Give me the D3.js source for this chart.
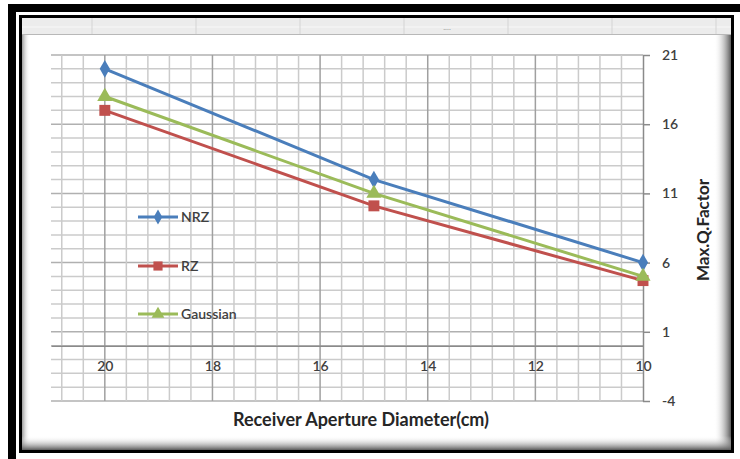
<!DOCTYPE html>
<html>
<head>
<meta charset="utf-8">
<script src="https://cdn.jsdelivr.net/npm/d3@7"></script>
<style>
  html, body { margin: 0; padding: 0; background: #fff; }
  svg { display: block; font-family: Lato, "Open Sans", sans-serif; }
</style>
</head>
<body>
<div id="chart"></div>
<script>
// données
const diameters = [20, 15, 10];
const nrz = [20, 12, 6];
const rz = [17, 10.1, 4.7];
const gaussian = [18, 11, 5];
const seriesNames = ["NRZ", "RZ", "Gaussian"];
const xTicks = [20, 18, 16, 14, 12, 10];
const yTicks = [-4, 1, 6, 11, 16, 21];

const width = 740,
    height = 459,
    plot = {left: 51, right: 643, top: 55, bottom: 401},
    colors = ["#4a7ebb", "#c0504d", "#9bbb59"],
    symbols = [d3.symbolDiamond, d3.symbolSquare, d3.symbolTriangle],
    symbolSizes = [90, 120, 100],
    legendY = [217, 266, 314];

const svg = d3.select("#chart").append("svg")
    .attr("width", width)
    .attr("height", height);

const x = d3.scaleLinear().domain([21, 10]).range([plot.left, plot.right]);
const y = d3.scaleLinear().domain([-4, 21]).range([plot.bottom, plot.top]);

drawFrame();
drawGrid();
drawAxes();
drawSeries();
drawLegend();

function drawFrame() {
    const defs = svg.append("defs");
    const grad = (id, x1, y1, x2, y2) => {
        const g = defs.append("linearGradient").attr("id", id)
            .attr("x1", x1).attr("y1", y1).attr("x2", x2).attr("y2", y2);
        g.append("stop").attr("offset", "0%").attr("stop-color", "#fff").attr("stop-opacity", 0);
        g.append("stop").attr("offset", "100%").attr("stop-color", "#5a5a5a").attr("stop-opacity", 1);
    };
    grad("shRight", 0, 0, 1, 0);
    grad("shBottom", 0, 0, 0, 1);
    grad("shLeft", 1, 0, 0, 0);

    // cadre noir épais + filet intérieur
    svg.append("rect").attr("x", 12).attr("y", 8).attr("width", 740).attr("height", 460)
        .style("fill", "none").style("stroke", "#000").style("stroke-width", 8);
    svg.append("rect").attr("x", 20.5).attr("y", 16.5).attr("width", 712).attr("height", 435)
        .style("fill", "#fff").style("stroke", "#000").style("stroke-width", 3);

    // ombres internes
    svg.append("rect").attr("x", 22).attr("y", 18).attr("width", 8).attr("height", 432).style("fill", "url(#shLeft)").style("opacity", 0.6);
    svg.append("rect").attr("x", 714).attr("y", 18).attr("width", 17).attr("height", 432).style("fill", "url(#shRight)");
    svg.append("rect").attr("x", 22).attr("y", 436).attr("width", 709).attr("height", 14).style("fill", "url(#shBottom)");

    // bandeau gris du tableur
    svg.append("rect").attr("x", 22).attr("y", 18).attr("width", 709).attr("height", 17).style("fill", "#ececec");
    svg.append("line").attr("x1", 22).attr("x2", 731).attr("y1", 27).attr("y2", 27).style("stroke", "#f8f8f8").style("stroke-width", 1);
    svg.append("line").attr("x1", 22).attr("x2", 731).attr("y1", 34.5).attr("y2", 34.5).style("stroke", "#b8b8b8").style("stroke-width", 1);
    svg.selectAll("line.col")
        .data(d3.range(92, 731, 104))
        .enter().append("line")
        .attr("class", "col")
        .attr("x1", d => d).attr("x2", d => d).attr("y1", 18).attr("y2", 34)
        .style("stroke", "#d4d4d4");
    svg.append("text").attr("x", 447).attr("y", 30).attr("text-anchor", "middle")
        .style("font-size", "8px").style("fill", "#999").text("....");
}

function drawGrid() {
    const grid = svg.append("g");
    const hMinor = d3.range(-4, 22, 1);
    const vMinor = d3.range(1, 28).map(i => +(10 + i * 0.4).toFixed(1));

    grid.selectAll("line.h")
        .data(hMinor)
        .enter().append("line")
        .attr("x1", plot.left).attr("x2", plot.right)
        .attr("y1", d => y(d)).attr("y2", d => y(d))
        .style("stroke", d => yTicks.includes(d) ? "#b0b0b0" : "#cbcbcb")
        .style("stroke-width", 1.5);

    grid.selectAll("line.v")
        .data(vMinor)
        .enter().append("line")
        .attr("x1", d => x(d)).attr("x2", d => x(d))
        .attr("y1", plot.top).attr("y2", plot.bottom)
        .style("stroke", d => xTicks.includes(d) ? "#a0a0a0" : "#cbcbcb")
        .style("stroke-width", 1.5);
}

function drawAxes() {
    const yAxis = svg.append("g")
        .attr("transform", "translate(" + plot.right + ",0)")
        .call(d3.axisRight(y).tickValues(yTicks).tickFormat(d => String(d))
            .tickSize(7).tickSizeOuter(0).tickPadding(12));
    yAxis.select(".domain").style("stroke", "#8a8a8a").style("stroke-width", 1.5);
    yAxis.selectAll(".tick line").style("stroke", "#8a8a8a").style("stroke-width", 1.5);
    yAxis.selectAll("text").style("font-size", "14px").style("fill", "#404040").style("font-weight", "600").style("font-family", "Lato");

    const xAxis = svg.append("g")
        .attr("transform", "translate(0," + y(0) + ")")
        .call(d3.axisBottom(x).tickValues(xTicks).tickFormat(d => String(d))
            .tickSize(0).tickSizeOuter(0).tickPadding(15));
    xAxis.select(".domain").style("stroke", "#8a8a8a").style("stroke-width", 1.5);
    xAxis.selectAll("text").style("font-size", "14px").style("fill", "#404040").style("font-weight", "600").style("font-family", "Lato");

    svg.append("text")
        .attr("x", 361).attr("y", 426)
        .attr("text-anchor", "middle")
        .style("font-size", "18px").style("font-weight", "bold").style("fill", "#262626")
        .text("Receiver Aperture Diameter(cm)");

    svg.append("text")
        .attr("transform", "translate(709,230) rotate(-90)")
        .attr("text-anchor", "middle")
        .style("font-size", "17px").style("font-weight", "bold").style("fill", "#262626")
        .text("Max.Q.Factor");
}

function drawSeries() {
    const values = [nrz, rz, gaussian];
    const line = d3.line().x(d => x(d[0])).y(d => y(d[1]));

    values.forEach((vals, i) => {
        const pts = diameters.map((d, j) => [d, vals[j]]);
        svg.append("path")
            .datum(pts)
            .attr("d", line)
            .style("fill", "none")
            .style("stroke", colors[i])
            .style("stroke-width", 3);

        svg.selectAll("path.m" + i)
            .data(pts)
            .enter().append("path")
            .attr("d", d3.symbol().type(symbols[i]).size(symbolSizes[i]))
            .attr("transform", d => "translate(" + x(d[0]) + "," + y(d[1]) + ")")
            .style("fill", colors[i]);
    });
}

function drawLegend() {
    const legend = svg.append("g");
    seriesNames.forEach((name, i) => {
        legend.append("line")
            .attr("x1", 138).attr("x2", 178)
            .attr("y1", legendY[i]).attr("y2", legendY[i])
            .style("stroke", colors[i]).style("stroke-width", 3);
        legend.append("path")
            .attr("d", d3.symbol().type(symbols[i]).size(symbolSizes[i] * 0.7))
            .attr("transform", "translate(158," + legendY[i] + ")")
            .style("fill", colors[i]);
        legend.append("text")
            .attr("x", 181).attr("y", legendY[i] + 5)
            .style("font-size", "14px").style("fill", "#404040").style("font-weight", "600")
            .text(name);
    });
}
</script>
</body>
</html>
